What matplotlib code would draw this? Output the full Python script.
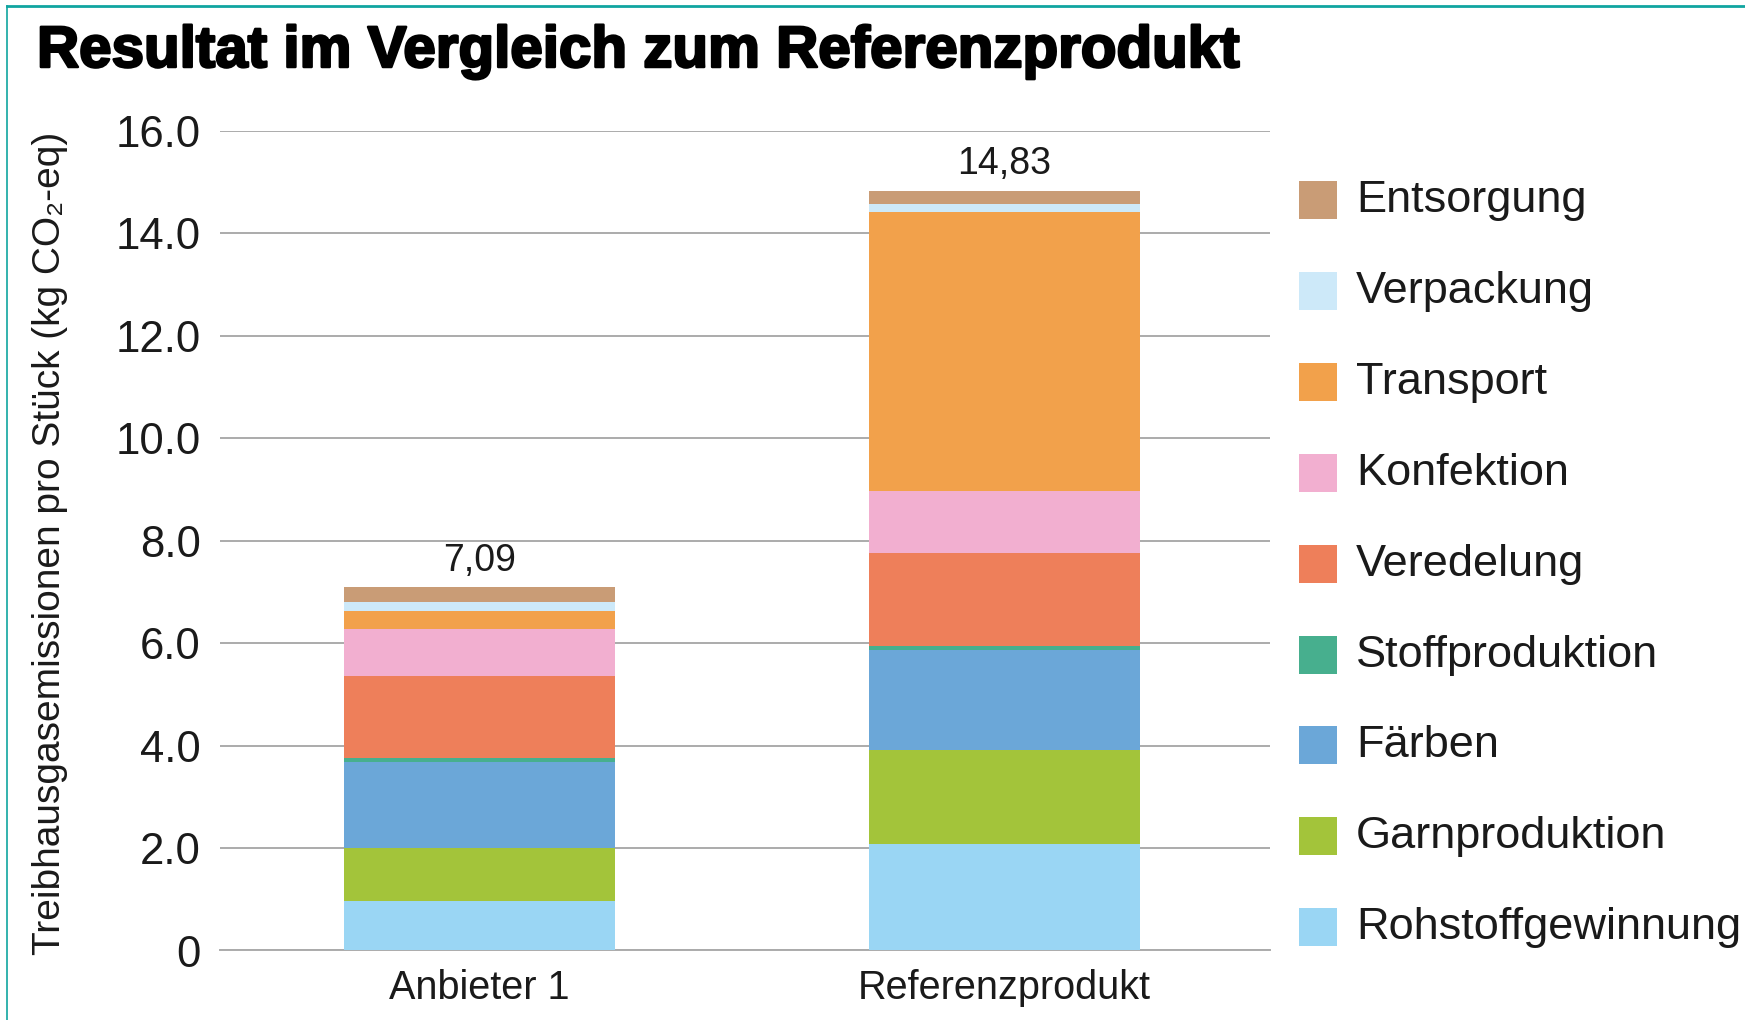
import numpy as np
import matplotlib
matplotlib.use("Agg")
import matplotlib.pyplot as plt
from matplotlib.patches import Rectangle
from matplotlib.lines import Line2D
import matplotlib.patheffects as pe

plt.rcParams['font.family'] = ['Liberation Sans', 'DejaVu Sans']

# data (kg CO2-eq per piece)
products = ['Anbieter 1', 'Referenzprodukt']
stages = ['Rohstoffgewinnung', 'Garnproduktion', 'Färben', 'Stoffproduktion',
          'Veredelung', 'Konfektion', 'Transport', 'Verpackung', 'Entsorgung']
anbieter = [0.97, 1.04, 1.68, 0.07, 1.59, 0.93, 0.34, 0.18, 0.29]
referenz = [2.08, 1.83, 1.96, 0.07, 1.83, 1.20, 5.45, 0.16, 0.25]
totals = [7.09, 14.83]
total_labels = ['7,09', '14,83']
colors = ['#9AD6F4', '#A3C43A', '#6BA7D8', '#47AF8E', '#EE7F5A',
          '#F2AFD0', '#F2A14B', '#CDE9F9', '#C99C76']
yticks = [0, 2, 4, 6, 8, 10, 12, 14, 16]
ytick_labels = ['0', '2.0', '4.0', '6.0', '8.0', '10.0', '12.0', '14.0', '16.0']

W, H = 1745, 1020
fig = plt.figure(figsize=(W / 100, H / 100 + 1e-4), dpi=100)
ax = fig.add_axes([220 / W, 1 - 950.5 / H, 1050 / W, (950.5 - 131) / H])

x = np.arange(len(products))
vals = np.array([anbieter, referenz])  # rows = products
bottom = np.zeros(len(products))
for i, stage in enumerate(stages):
    ax.bar(x, vals[:, i], width=0.516, bottom=bottom, color=colors[i],
           zorder=3, linewidth=0)
    bottom += vals[:, i]

for xi, t, lab in zip(x, totals, total_labels):
    ax.annotate(lab, (xi, t), xytext=(0, 12), textcoords='offset points',
                ha='center', va='baseline', fontsize=27, color='#1a1a1a')

ax.set_xlim(-0.494, 1.506)
ax.set_ylim(0, 16)
ax.set_yticks(yticks)
ax.set_yticklabels(ytick_labels)
ax.set_xticks(x)
ax.set_xticklabels(products)
ax.tick_params(axis='y', length=0, pad=14, labelsize=31.5, labelcolor='#1a1a1a')
ax.tick_params(axis='x', length=0, pad=13, labelsize=28.5, labelcolor='#1a1a1a')
ax.grid(axis='y', color='#ABABAB', linewidth=1.4, zorder=0)
for s in ['top', 'right', 'left']:
    ax.spines[s].set_visible(False)
ax.spines['bottom'].set_color('#ABABAB')
ax.spines['bottom'].set_linewidth(1.4)

fig.text(50 / W, 1 - 543 / H, 'Treibhausgasemissionen pro Stück (kg CO₂-eq)',
         rotation=90, ha='center', va='center', fontsize=28, color='#1a1a1a')

fig.text(37 / W, 1 - 67 / H, 'Resultat im Vergleich zum Referenzprodukt',
         fontsize=42, fontweight='bold', color='black', va='baseline',
         path_effects=[pe.withStroke(linewidth=1.8, foreground='black')])

# legend, Entsorgung on top
row_y = [200, 291, 382, 473, 564, 655, 745, 836, 927]
for k, i in enumerate(range(len(stages) - 1, -1, -1)):
    yc = row_y[k]
    fig.patches.append(Rectangle((1299 / W, 1 - (yc + 19) / H), 38 / W, 38 / H,
                                 transform=fig.transFigure, facecolor=colors[i],
                                 edgecolor='none'))
    fig.text(1356 / W, 1 - yc / H, stages[i], fontsize=32.5, va='center',
             ha='left', color='#1a1a1a')

# teal frame
fig.add_artist(Line2D([7 / W, 1], [1 - 6 / H, 1 - 6 / H], color='#10A5A0',
                      linewidth=2, transform=fig.transFigure))
fig.add_artist(Line2D([7 / W, 7 / W], [0, 1 - 6 / H], color='#10A5A0',
                      linewidth=1.2, transform=fig.transFigure))

fig.savefig('out.png', dpi=100)
